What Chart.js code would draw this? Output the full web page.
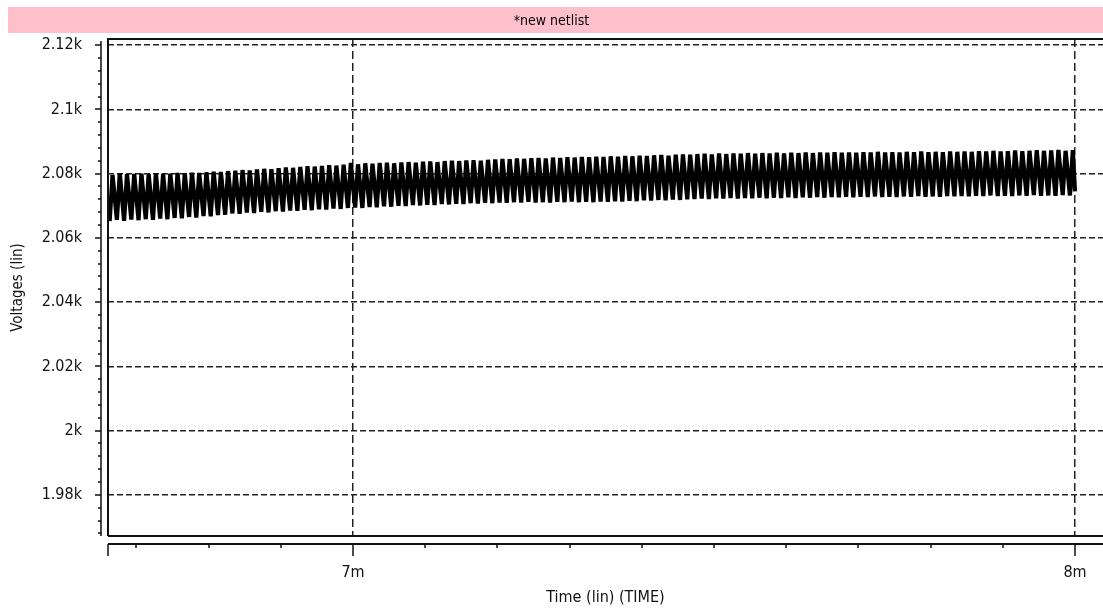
<!DOCTYPE html>
<html>
<head>
<meta charset="utf-8">
<script src="https://cdn.jsdelivr.net/npm/chart.js@4.4.1/dist/chart.umd.min.js"></script>
<style>
  html, body { margin: 0; padding: 0; background: #fff; }
  canvas { display: block; }
</style>
</head>
<body>
<canvas id="c" width="1103" height="612"></canvas>
<script>
// time in ms, voltage in V (one trough + one peak per ~10us cycle)
const tTrough = [
  6.663, 6.673, 6.683, 6.693, 6.703, 6.713, 6.723, 6.733, 6.743, 6.753,
  6.763, 6.773, 6.783, 6.793, 6.803, 6.813, 6.823, 6.833, 6.843, 6.853,
  6.863, 6.873, 6.883, 6.893, 6.903, 6.913, 6.923, 6.933, 6.943, 6.953,
  6.963, 6.973, 6.983, 6.993, 7.003, 7.013, 7.023, 7.033, 7.043, 7.053,
  7.063, 7.073, 7.083, 7.093, 7.103, 7.113, 7.123, 7.133, 7.143, 7.153,
  7.163, 7.173, 7.183, 7.193, 7.203, 7.213, 7.223, 7.233, 7.243, 7.253,
  7.263, 7.273, 7.283, 7.293, 7.303, 7.313, 7.323, 7.333, 7.343, 7.353,
  7.363, 7.373, 7.383, 7.393, 7.403, 7.413, 7.423, 7.433, 7.443, 7.453,
  7.463, 7.473, 7.483, 7.493, 7.503, 7.513, 7.523, 7.533, 7.543, 7.553,
  7.563, 7.573, 7.583, 7.593, 7.603, 7.613, 7.623, 7.633, 7.643, 7.653,
  7.663, 7.673, 7.683, 7.693, 7.703, 7.713, 7.723, 7.733, 7.743, 7.753,
  7.763, 7.773, 7.783, 7.793, 7.803, 7.813, 7.823, 7.833, 7.843, 7.853,
  7.863, 7.873, 7.883, 7.893, 7.903, 7.913, 7.923, 7.933, 7.943, 7.953,
  7.963, 7.973, 7.983, 7.993
];
const vTrough = [
  2065.2, 2065.6, 2065.3, 2065.7, 2065.5, 2065.8, 2065.6, 2066.0, 2065.8, 2066.2,
  2066.1, 2066.5, 2066.3, 2066.8, 2066.7, 2067.1, 2067.2,
  2067.6, 2067.5, 2067.9, 2067.7, 2068.1, 2067.9, 2068.3, 2068.2, 2068.5, 2068.4,
  2068.7, 2068.6, 2068.9, 2068.8, 2069.1, 2069.0, 2069.3,
  2069.4, 2069.3, 2069.6, 2069.5, 2069.8, 2069.7, 2070.0, 2069.9, 2070.2, 2070.1,
  2070.3, 2070.2, 2070.5, 2070.4, 2070.6, 2070.5, 2070.8, 2070.7, 2070.9, 2070.8,
  2071.0, 2070.9, 2071.1, 2071.0, 2071.2, 2071.0, 2071.1, 2071.0, 2071.2, 2071.1,
  2071.3, 2071.1, 2071.2, 2071.1, 2071.3, 2071.2, 2071.4, 2071.3,
  2071.5, 2071.4, 2071.7, 2071.6, 2071.8, 2071.7, 2071.9, 2071.8, 2072.0, 2072.1,
  2072.2, 2072.1, 2072.3, 2072.2, 2072.4, 2072.2, 2072.4, 2072.3, 2072.5, 2072.3,
  2072.5, 2072.4, 2072.6, 2072.4, 2072.6, 2072.5, 2072.7, 2072.5, 2072.7, 2072.6,
  2072.8, 2072.6, 2072.8, 2072.7, 2072.9, 2072.7, 2072.8, 2072.7, 2072.9, 2072.8,
  2073.0, 2072.8, 2072.9, 2072.8, 2073.0, 2072.9,
  2073.0, 2072.9, 2073.1, 2073.0, 2073.2, 2073.0, 2073.1, 2073.0, 2073.2, 2073.1,
  2073.3, 2073.1, 2073.2, 2073.1, 2073.3, 2073.2
];
const tPeak = [
  6.667, 6.677, 6.687, 6.697, 6.707, 6.717, 6.727, 6.737, 6.747, 6.757,
  6.767, 6.777, 6.787, 6.797, 6.807, 6.817, 6.827, 6.837, 6.847, 6.857,
  6.867, 6.877, 6.887, 6.897, 6.907, 6.917, 6.927, 6.937, 6.947, 6.957,
  6.967, 6.977, 6.987, 6.997, 7.007, 7.017, 7.027, 7.037, 7.047, 7.057,
  7.067, 7.077, 7.087, 7.097, 7.107, 7.117, 7.127, 7.137, 7.147, 7.157,
  7.167, 7.177, 7.187, 7.197, 7.207, 7.217, 7.227, 7.237, 7.247, 7.257,
  7.267, 7.277, 7.287, 7.297, 7.307, 7.317, 7.327, 7.337, 7.347, 7.357,
  7.367, 7.377, 7.387, 7.397, 7.407, 7.417, 7.427, 7.437, 7.447, 7.457,
  7.467, 7.477, 7.487, 7.497, 7.507, 7.517, 7.527, 7.537, 7.547, 7.557,
  7.567, 7.577, 7.587, 7.597, 7.607, 7.617, 7.627, 7.637, 7.647, 7.657,
  7.667, 7.677, 7.687, 7.697, 7.707, 7.717, 7.727, 7.737, 7.747, 7.757,
  7.767, 7.777, 7.787, 7.797, 7.807, 7.817, 7.827, 7.837, 7.847, 7.857,
  7.867, 7.877, 7.887, 7.897, 7.907, 7.917, 7.927, 7.937, 7.947, 7.957,
  7.967, 7.977, 7.987, 7.997
];
const vPeak = [
  2079.6, 2080.1, 2079.8, 2079.9, 2080.0, 2079.8, 2080.1, 2079.9, 2080.0, 2080.2,
  2080.1, 2080.3, 2080.2, 2080.4, 2080.6, 2080.5, 2080.8,
  2080.9, 2081.1, 2081.0, 2081.3, 2081.5, 2081.4, 2081.7, 2081.9, 2081.8, 2082.1,
  2082.3, 2082.2, 2082.4, 2082.6, 2082.5, 2082.8, 2083.3,
  2082.9, 2083.2, 2083.1, 2083.3, 2083.4, 2083.2, 2083.5, 2083.6, 2083.4, 2083.7,
  2083.8, 2083.6, 2083.9, 2084.0, 2083.9, 2084.1, 2084.2, 2084.0, 2084.3, 2084.4,
  2084.6, 2084.5, 2084.7, 2084.6, 2084.8, 2084.9, 2084.7, 2085.0, 2084.9, 2085.1,
  2085.0, 2085.2, 2085.1, 2085.3, 2085.2, 2085.4, 2085.3, 2085.5,
  2085.4, 2085.6, 2085.5, 2085.7, 2085.8, 2085.6, 2085.9, 2086.0, 2085.9, 2086.1,
  2086.2, 2086.0, 2086.3, 2086.1, 2086.3, 2086.2, 2086.4, 2086.2, 2086.4, 2086.3,
  2086.5, 2086.3, 2086.5, 2086.4, 2086.6, 2086.4, 2086.6, 2086.5, 2086.7, 2086.5,
  2086.6, 2086.5, 2086.7, 2086.6, 2086.8, 2086.6, 2086.7, 2086.6, 2086.8, 2086.7,
  2086.9, 2086.7, 2086.8, 2086.7, 2086.9, 2086.8,
  2086.9, 2086.8, 2087.0, 2086.9, 2087.1, 2086.9, 2087.0, 2087.2, 2087.0, 2087.1,
  2087.3, 2087.1, 2087.2, 2087.4, 2087.1, 2087.3
];
const tEnd = 8.000;
const vEnd = 2074.5;

const yTickValues = [1980, 2000, 2020, 2040, 2060, 2080, 2100, 2120];
const xTickValues = [7, 8];
const yMinorStep = 4;     // V
const xMinorStep = 0.1;   // ms

const points = [];
for (let i = 0; i < tTrough.length; i++) {
  points.push({ x: tTrough[i], y: vTrough[i] });
  points.push({ x: tPeak[i], y: vPeak[i] });
}
points.push({ x: tEnd, y: vEnd });

const FONT = "'Liberation Sans Narrow', 'DejaVu Sans Condensed', 'Arial Narrow', sans-serif";
Chart.defaults.font.family = FONT;
Chart.defaults.color = '#111';

const frame = {
  id: 'frame',
  beforeDraw(chart) {
    const ctx = chart.ctx;
    ctx.save();
    ctx.fillStyle = '#ffc0cb';
    ctx.fillRect(8, 7, chart.width - 8, 26);
    ctx.restore();
  },
  afterDraw(chart) {
    const { ctx, chartArea: a, scales: { x, y } } = chart;
    ctx.save();
    ctx.strokeStyle = '#111';
    ctx.lineWidth = 2;
    // plot box
    ctx.beginPath();
    ctx.moveTo(a.left, a.bottom);
    ctx.lineTo(a.left, a.top);
    ctx.lineTo(a.right, a.top);
    ctx.moveTo(a.left, a.bottom);
    ctx.lineTo(a.right, a.bottom);
    ctx.stroke();

    // separate x axis below the box
    const ax = a.bottom + 8;
    ctx.beginPath();
    ctx.moveTo(a.left, ax);
    ctx.lineTo(a.right, ax);
    ctx.stroke();
    ctx.lineWidth = 1.5;
    ctx.beginPath();
    ctx.moveTo(a.left, ax);
    ctx.lineTo(a.left, ax + 12);
    xTickValues.forEach(v => {
      const px = Math.round(x.getPixelForValue(v));
      ctx.moveTo(px, ax);
      ctx.lineTo(px, ax + 12);
    });
    for (let k = Math.ceil(x.min / xMinorStep); k * xMinorStep <= x.max; k++) {
      if (k % 10 === 0) continue;
      const px = Math.round(x.getPixelForValue(k * xMinorStep));
      ctx.moveTo(px, ax);
      ctx.lineTo(px, ax + 4);
    }
    ctx.stroke();

    // separate y axis left of the box
    const ay = a.left - 7;
    ctx.beginPath();
    ctx.moveTo(ay, a.top + 2);
    ctx.lineTo(ay, a.bottom);
    yTickValues.forEach(v => {
      const py = Math.round(y.getPixelForValue(v));
      ctx.moveTo(ay - 6, py);
      ctx.lineTo(ay, py);
    });
    for (let k = Math.ceil(y.min / yMinorStep); k * yMinorStep <= y.max; k++) {
      if ((k * yMinorStep) % 20 === 0) continue;
      const py = Math.round(y.getPixelForValue(k * yMinorStep));
      ctx.moveTo(ay - 3, py);
      ctx.lineTo(ay, py);
    }
    ctx.stroke();
    ctx.restore();
  }
};

new Chart(document.getElementById('c'), {
  type: 'line',
  data: {
    datasets: [{
      data: points,
      borderColor: '#000',
      borderWidth: 4.2,
      pointRadius: 0,
      tension: 0,
      fill: false
    }]
  },
  options: {
    responsive: false,
    animation: false,
    layout: { padding: 0 },
    plugins: {
      legend: { display: false },
      tooltip: { enabled: false },
      title: {
        display: true,
        text: '*new netlist',
        color: '#000',
        font: { size: 14, weight: 'normal' },
        padding: { top: 13, bottom: 9.2 }
      }
    },
    scales: {
      x: {
        type: 'linear',
        min: 6.6607,
        max: 8.0388,
        afterFit(s) { s.height = 76; s.paddingLeft = 0; s.paddingRight = 0; },
        afterBuildTicks(s) { s.ticks = xTickValues.map(v => ({ value: v })); },
        ticks: {
          padding: 27,
          font: { size: 16 },
          color: '#111',
          maxRotation: 0,
          autoSkip: false,
          callback: v => v + 'm'
        },
        grid: { drawTicks: false, color: '#222', lineWidth: 1.5 },
        border: { display: false, dash: [8, 4] },
        title: {
          display: true,
          text: 'Time (lin) (TIME)',
          color: '#111',
          font: { size: 16 },
          padding: { top: 0, bottom: 5 }
        }
      },
      y: {
        type: 'linear',
        min: 1967.2,
        max: 2121.9,
        afterFit(s) { s.width = 108; s.paddingTop = 0; s.paddingBottom = 0; },
        afterBuildTicks(s) { s.ticks = yTickValues.map(v => ({ value: v })); },
        ticks: {
          padding: 26,
          font: { size: 16 },
          color: '#111',
          autoSkip: false,
          callback: v => (v / 1000) + 'k'
        },
        grid: { drawTicks: false, color: '#222', lineWidth: 1.5 },
        border: { display: false, dash: [6, 3] },
        title: {
          display: true,
          text: 'Voltages (lin)',
          color: '#111',
          font: { size: 15 },
          padding: { top: 9, bottom: 0 }
        }
      }
    }
  },
  plugins: [frame]
});
</script>
</body>
</html>
